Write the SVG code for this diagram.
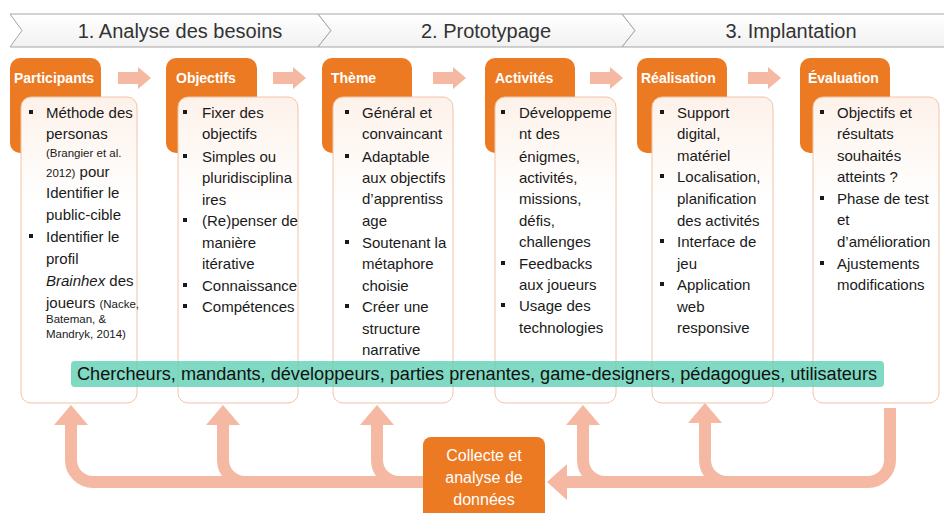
<svg xmlns="http://www.w3.org/2000/svg" width="944" height="513" viewBox="0 0 944 513">
<defs>
<linearGradient id="chev" x1="0" y1="0" x2="0" y2="1"><stop offset="0" stop-color="#ffffff"/><stop offset="1" stop-color="#f1f1f1"/></linearGradient>
<linearGradient id="card" x1="0" y1="0" x2="0" y2="1"><stop offset="0" stop-color="#fdf2ea"/><stop offset="0.35" stop-color="#ffffff"/><stop offset="1" stop-color="#ffffff"/></linearGradient>
<marker id="head" viewBox="0 0 20 34" refX="0" refY="17" markerWidth="20" markerHeight="34" orient="auto" markerUnits="userSpaceOnUse"><path d="M0,0 L20,17 L0,34 Z" fill="#f5b8a2"/></marker>
<marker id="headL" viewBox="0 0 20 36" refX="0" refY="18" markerWidth="20" markerHeight="36" orient="auto" markerUnits="userSpaceOnUse"><path d="M0,0 L20,18 L0,36 Z" fill="#f5b8a2"/></marker>
<style>
.chev{fill:url(#chev);stroke:#a6a6a6;stroke-width:1}
.phase{font-family:'Liberation Sans',Arial,sans-serif;font-size:20px;fill:#333;text-anchor:middle}
.tab{fill:#ec7a23}
.card{fill:url(#card);stroke:#f2c4a6;stroke-width:1}
.hd{font-family:'Liberation Sans',Arial,sans-serif;font-size:14px;font-weight:bold;fill:#fff}
.t{font-family:'Liberation Sans',Arial,sans-serif;font-size:15px;fill:#1a1a1a}
.s{font-size:11.5px}
.bl{fill:#1a1a1a}
.step{fill:#f5b8a2}
.flow{fill:none;stroke:#f5b8a2;stroke-width:12;stroke-linecap:butt}
.band{fill:#5fd0b4;fill-opacity:0.8}
.bandt{font-family:'Liberation Sans',Arial,sans-serif;font-size:18px;fill:#111}
.ct{font-family:'Liberation Sans',Arial,sans-serif;font-size:16px;fill:#fff;text-anchor:middle}
</style>
</defs>
<rect width="944" height="513" fill="#ffffff"/>

<g id="phases">
<path class="chev" d="M10,14 L318,14 L331,30.5 L318,47 L10,47 L22,30.5 Z"/>
<path class="chev" d="M318,14 L622,14 L635,30.5 L622,47 L318,47 L331,30.5 Z"/>
<path class="chev" d="M622,14 L945,14 L945,47 L622,47 L635,30.5 Z"/>
<text class="phase" x="180" y="38">1. Analyse des besoins</text>
<text class="phase" x="486" y="38">2. Prototypage</text>
<text class="phase" x="791" y="38">3. Implantation</text>
</g>

<g id="steps">
<path class="step" d="M118,72 H138 V67 L151,78 L138,89 V84 H118 Z"/>
<path class="step" d="M273,72 H293 V67 L306,78 L293,89 V84 H273 Z"/>
<path class="step" d="M433,72 H453 V67 L466,78 L453,89 V84 H433 Z"/>
<path class="step" d="M590,72 H610 V67 L623,78 L610,89 V84 H590 Z"/>
<path class="step" d="M748,72 H768 V67 L781,78 L768,89 V84 H748 Z"/>
</g>

<g id="connectors">
<path class="flow" d="M430,482 H93 A22,22 0 0 1 71,460 V425" marker-end="url(#head)"/>
<path class="flow" d="M245,482 A22,22 0 0 1 223,460 V425" marker-end="url(#head)"/>
<path class="flow" d="M399,482 A22,22 0 0 1 377,460 V425" marker-end="url(#head)"/>
<path class="flow" d="M890,408 V460 A22,22 0 0 1 868,482 H567" marker-end="url(#headL)"/>
<path class="flow" d="M605,482 A22,22 0 0 1 583,460 V425" marker-end="url(#head)"/>
<path class="flow" d="M727,482 A22,22 0 0 1 705,460 V423" marker-end="url(#head)"/>
</g>

<g id="participants">
<rect class="tab" x="10" y="58" width="91" height="95" rx="10"/>
<text class="hd" x="14" y="83">Participants</text>
<rect class="card" x="21" y="97" width="116" height="306" rx="10"/>
<rect class="bl" x="29" y="110" width="4" height="4"/>
<rect class="bl" x="29" y="234" width="4" height="4"/>
<text class="t">
<tspan x="46" y="118">Méthode des</tspan>
<tspan x="46" y="139">personas</tspan>
<tspan x="46" y="157" class="s">(Brangier et al.</tspan>
<tspan x="46" y="177"><tspan class="s">2012)</tspan> pour</tspan>
<tspan x="46" y="198">Identifier le</tspan>
<tspan x="46" y="220">public-cible</tspan>
<tspan x="46" y="242">Identifier le</tspan>
<tspan x="46" y="264">profil</tspan>
<tspan x="46" y="286"><tspan font-style="italic">Brainhex</tspan> des</tspan>
<tspan x="46" y="308">joueurs <tspan class="s">(Nacke,</tspan></tspan>
<tspan x="46" y="323" class="s">Bateman, &amp;</tspan>
<tspan x="46" y="338" class="s">Mandryk, 2014)</tspan>
</text>
</g>

<g id="objectifs">
<rect class="tab" x="166" y="58" width="91" height="95" rx="10"/>
<text class="hd" x="176" y="83">Objectifs</text>
<rect class="card" x="178" y="97" width="120" height="306" rx="10"/>
<rect class="bl" x="183" y="110" width="4" height="4"/>
<rect class="bl" x="183" y="154" width="4" height="4"/>
<rect class="bl" x="183" y="218" width="4" height="4"/>
<rect class="bl" x="183" y="283" width="4" height="4"/>
<rect class="bl" x="183" y="304" width="4" height="4"/>
<text class="t">
<tspan x="202" y="118">Fixer des</tspan>
<tspan x="202" y="139">objectifs</tspan>
<tspan x="202" y="162">Simples ou</tspan>
<tspan x="202" y="183">pluridisciplina</tspan>
<tspan x="202" y="205">ires</tspan>
<tspan x="202" y="226">(Re)penser de</tspan>
<tspan x="202" y="248">manière</tspan>
<tspan x="202" y="269">itérative</tspan>
<tspan x="202" y="291">Connaissance</tspan>
<tspan x="202" y="312">Compétences</tspan>
</text>
</g>

<g id="theme">
<rect class="tab" x="322" y="58" width="90" height="95" rx="10"/>
<text class="hd" x="331" y="83">Thème</text>
<rect class="card" x="333" y="97" width="120" height="306" rx="10"/>
<rect class="bl" x="345" y="110" width="4" height="4"/>
<rect class="bl" x="345" y="154" width="4" height="4"/>
<rect class="bl" x="345" y="240" width="4" height="4"/>
<rect class="bl" x="345" y="304" width="4" height="4"/>
<text class="t">
<tspan x="362" y="118">Général et</tspan>
<tspan x="362" y="139">convaincant</tspan>
<tspan x="362" y="162">Adaptable</tspan>
<tspan x="362" y="183">aux objectifs</tspan>
<tspan x="362" y="204">d’apprentiss</tspan>
<tspan x="362" y="226">age</tspan>
<tspan x="362" y="248">Soutenant la</tspan>
<tspan x="362" y="269">métaphore</tspan>
<tspan x="362" y="291">choisie</tspan>
<tspan x="362" y="312">Créer une</tspan>
<tspan x="362" y="334">structure</tspan>
<tspan x="362" y="355">narrative</tspan>
</text>
</g>

<g id="activites">
<rect class="tab" x="485" y="58" width="90" height="95" rx="10"/>
<text class="hd" x="495" y="83">Activités</text>
<rect class="card" x="495" y="97" width="121" height="306" rx="10"/>
<rect class="bl" x="501" y="110" width="4" height="4"/>
<rect class="bl" x="501" y="261" width="4" height="4"/>
<rect class="bl" x="501" y="303" width="4" height="4"/>
<text class="t">
<tspan x="519" y="118">Développeme</tspan>
<tspan x="519" y="139">nt des</tspan>
<tspan x="519" y="162">énigmes,</tspan>
<tspan x="519" y="183">activités,</tspan>
<tspan x="519" y="204">missions,</tspan>
<tspan x="519" y="226">défis,</tspan>
<tspan x="519" y="247">challenges</tspan>
<tspan x="519" y="269">Feedbacks</tspan>
<tspan x="519" y="290">aux joueurs</tspan>
<tspan x="519" y="311">Usage des</tspan>
<tspan x="519" y="333">technologies</tspan>
</text>
</g>

<g id="realisation">
<rect class="tab" x="637" y="58" width="90" height="95" rx="10"/>
<text class="hd" x="641" y="83">Réalisation</text>
<rect class="card" x="652" y="97" width="121" height="306" rx="10"/>
<rect class="bl" x="660" y="110" width="4" height="4"/>
<rect class="bl" x="660" y="174" width="4" height="4"/>
<rect class="bl" x="660" y="239" width="4" height="4"/>
<rect class="bl" x="660" y="282" width="4" height="4"/>
<text class="t">
<tspan x="677" y="118">Support</tspan>
<tspan x="677" y="139">digital,</tspan>
<tspan x="677" y="161">matériel</tspan>
<tspan x="677" y="182">Localisation,</tspan>
<tspan x="677" y="204">planification</tspan>
<tspan x="677" y="226">des activités</tspan>
<tspan x="677" y="247">Interface de</tspan>
<tspan x="677" y="269">jeu</tspan>
<tspan x="677" y="290">Application</tspan>
<tspan x="677" y="312">web</tspan>
<tspan x="677" y="333">responsive</tspan>
</text>
</g>

<g id="evaluation">
<rect class="tab" x="800" y="58" width="90" height="95" rx="10"/>
<text class="hd" x="808" y="83">Évaluation</text>
<rect class="card" x="813" y="97" width="126" height="306" rx="10"/>
<rect class="bl" x="820" y="110" width="4" height="4"/>
<rect class="bl" x="820" y="196" width="4" height="4"/>
<rect class="bl" x="820" y="261" width="4" height="4"/>
<text class="t">
<tspan x="837" y="118">Objectifs et</tspan>
<tspan x="837" y="139">résultats</tspan>
<tspan x="837" y="161">souhaités</tspan>
<tspan x="837" y="182">atteints ?</tspan>
<tspan x="837" y="204">Phase de test</tspan>
<tspan x="837" y="225">et</tspan>
<tspan x="837" y="247">d’amélioration</tspan>
<tspan x="837" y="269">Ajustements</tspan>
<tspan x="837" y="290">modifications</tspan>
</text>
</g>

<g id="acteurs">
<rect class="band" x="71" y="361" width="813" height="26" rx="4"/>
<text class="bandt" x="77" y="380" textLength="800" lengthAdjust="spacingAndGlyphs">Chercheurs, mandants, développeurs, parties prenantes, game-designers, pédagogues, utilisateurs</text>
</g>

<g id="collecte">
<rect class="tab" x="423" y="437" width="122" height="86" rx="8"/>
<text class="ct" x="484" y="461">Collecte et</text>
<text class="ct" x="484" y="483">analyse de</text>
<text class="ct" x="484" y="505">données</text>
</g>
</svg>
